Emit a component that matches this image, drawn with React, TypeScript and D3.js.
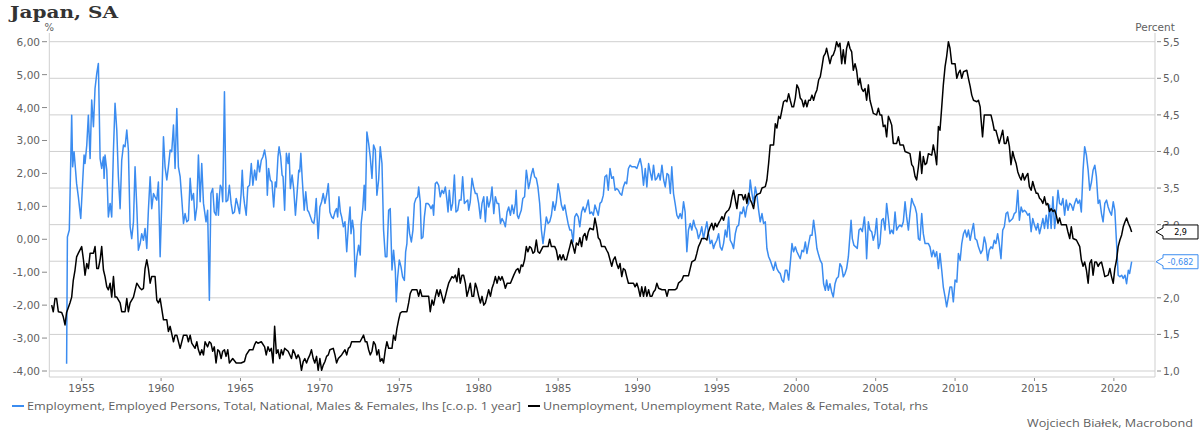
import * as d3 from "d3";

// Japan, SA — employment (lhs, % y/y) vs unemployment rate (rhs, %)
const yearTicks = [1955, 1960, 1965, 1970, 1975, 1980, 1985, 1990, 1995, 2000, 2005, 2010, 2015, 2020];
const lhsTicks = [6, 5, 4, 3, 2, 1, 0, -1, -2, -3, -4];
const rhsTicks = [5.5, 5, 4.5, 4, 3.5, 3, 2.5, 2, 1.5, 1];

const legendLabels = [
  "Employment, Employed Persons, Total, National, Males & Females, lhs [c.o.p. 1 year]",
  "Unemployment, Unemployment Rate, Males & Females, Total, rhs",
];

// [decimal year, value]
const employment: [number, number][] = [
  [1954.05, -3.78], [1954.1, 0.07], [1954.22, 0.28], [1954.37, 3.77], [1954.43, 2.2], [1954.52, 2.66], [1954.58, 2.3],
  [1954.68, 1.69], [1954.79, 1.29], [1954.94, 0.63], [1955.06, 1.74], [1955.15, 2.56], [1955.21, 2.3], [1955.32, 2.86],
  [1955.42, 3.77], [1955.53, 2.45], [1955.63, 4.23], [1955.74, 3.42], [1955.84, 4.58], [1955.95, 5.04], [1956.05, 5.34],
  [1956.16, 2.45], [1956.26, 2.15], [1956.37, 2.5], [1956.41, 1.85], [1956.47, 2.56], [1956.58, 2.1], [1956.68, 0.68],
  [1956.79, 1.09], [1956.89, 0.68], [1957.0, 2.71], [1957.1, 4.13], [1957.21, 3.32], [1957.31, 1.9], [1957.42, 0.93],
  [1957.52, 2.4], [1957.63, 2.86], [1957.73, 2.81], [1957.84, 3.32], [1957.94, 2.71], [1958.05, 0.38], [1958.15, 0.02],
  [1958.26, 0.53], [1958.36, 2.2], [1958.47, 0.98], [1958.57, -0.33], [1958.68, -0.13], [1958.78, 0.17], [1958.89, -0.03],
  [1958.99, 0.33], [1959.1, -0.28], [1959.2, 0.88], [1959.31, 1.9], [1959.41, 0.93], [1959.52, 1.39], [1959.62, 1.29],
  [1959.73, 1.19], [1959.83, 1.74], [1959.94, -0.53], [1960.04, 1.09], [1960.15, 3.11], [1960.25, 2.2], [1960.36, 1.8],
  [1960.46, 2.2], [1960.57, 2.71], [1960.67, 2.66], [1960.78, 3.47], [1960.88, 2.15], [1960.99, 3.97], [1961.09, 2.2],
  [1961.2, 1.9], [1961.3, 1.24], [1961.41, 0.48], [1961.51, 0.78], [1961.62, 0.53], [1961.72, 0.58], [1961.83, 1.85],
  [1961.93, 1.19], [1962.04, 1.39], [1962.14, 0.58], [1962.25, 0.98], [1962.35, 2.56], [1962.46, 1.14], [1962.56, 2.3],
  [1962.67, 1.09], [1962.83, 0.53], [1962.93, 0.88], [1963.04, -1.85], [1963.14, 1.39], [1963.25, 1.54], [1963.35, 0.83],
  [1963.46, 0.73], [1963.52, 1.39], [1963.61, 0.73], [1963.67, 1.29], [1963.73, 1.64], [1963.82, 1.54], [1963.88, 1.14],
  [1963.99, 4.48], [1964.09, 1.14], [1964.2, 1.19], [1964.3, 1.64], [1964.41, 1.09], [1964.51, 0.78], [1964.62, 0.83],
  [1964.73, 1.24], [1964.83, 1.04], [1964.94, 0.78], [1965.04, 1.39], [1965.11, 2.1], [1965.19, 1.34], [1965.25, 1.09],
  [1965.36, 0.73], [1965.46, 1.59], [1965.57, 1.64], [1965.68, 2.3], [1965.78, 1.64], [1965.89, 2.1], [1965.99, 1.8],
  [1966.1, 2.4], [1966.2, 2.05], [1966.31, 2.4], [1966.41, 2.5], [1966.52, 2.71], [1966.62, 2.4], [1966.69, 1.34],
  [1966.77, 2.15], [1966.88, 1.8], [1966.98, 1.74], [1967.09, 0.98], [1967.19, 1.74], [1967.26, 1.59], [1967.36, 2.5],
  [1967.43, 2.81], [1967.53, 2.5], [1967.62, 1.95], [1967.68, 1.9], [1967.78, 0.88], [1967.89, 2.61], [1968.0, 2.3],
  [1968.06, 2.61], [1968.14, 1.54], [1968.25, 1.95], [1968.35, 1.54], [1968.46, 0.73], [1968.57, 1.44], [1968.67, 2.1],
  [1968.73, 2.05], [1968.8, 2.61], [1968.88, 1.9], [1969.01, 0.88], [1969.11, 1.44], [1969.22, 0.88], [1969.3, 0.83],
  [1969.41, 0.68], [1969.51, 0.53], [1969.62, 0.48], [1969.68, 0.68], [1969.77, 1.24], [1969.89, 0.02], [1970.0, 0.98],
  [1970.11, 1.14], [1970.21, 1.39], [1970.32, 1.09], [1970.44, 1.39], [1970.53, 1.69], [1970.63, 0.83], [1970.74, 0.68],
  [1970.84, 0.63], [1970.95, 0.83], [1971.05, 0.93], [1971.12, 0.68], [1971.2, 1.29], [1971.29, 0.83], [1971.37, 0.68],
  [1971.48, 0.38], [1971.58, 0.53], [1971.69, -0.38], [1971.79, 0.38], [1971.9, 0.98], [1971.96, 0.17], [1972.05, 0.58],
  [1972.13, 0.28], [1972.22, -1.14], [1972.33, -0.53], [1972.44, -0.18], [1972.54, -0.48], [1972.6, 0.48], [1972.71, 0.98],
  [1972.79, 1.64], [1972.86, 0.88], [1972.96, 3.26], [1973.07, 2.91], [1973.17, 2.5], [1973.28, 1.85], [1973.38, 2.86],
  [1973.49, 2.71], [1973.59, 1.34], [1973.7, 1.8], [1973.8, 2.81], [1973.91, 2.3], [1974.01, 0.28], [1974.12, -0.53],
  [1974.22, -0.53], [1974.33, 0.88], [1974.43, 0.93], [1974.54, -0.93], [1974.64, -0.33], [1974.75, -0.93], [1974.81, -1.9],
  [1974.89, -1.19], [1975.0, -0.63], [1975.11, -0.84], [1975.21, -1.14], [1975.32, -1.25], [1975.4, -0.38], [1975.48, -0.13],
  [1975.55, 0.68], [1975.65, 0.17], [1975.76, -0.08], [1975.86, 0.28], [1975.95, 1.09], [1976.05, 1.24], [1976.16, 1.29],
  [1976.22, 1.59], [1976.32, 1.14], [1976.39, 0.02], [1976.49, 0.07], [1976.58, 0.68], [1976.68, 1.09], [1976.79, 1.09],
  [1976.89, 1.04], [1977.0, 0.93], [1977.1, 1.04], [1977.16, 0.73], [1977.27, 1.69], [1977.37, 1.74], [1977.48, 1.64],
  [1977.58, 1.29], [1977.69, 1.49], [1977.79, 1.39], [1977.9, 1.59], [1978.0, 1.19], [1978.07, 0.83], [1978.15, 1.49],
  [1978.26, 0.88], [1978.36, 1.09], [1978.47, 1.95], [1978.57, 0.83], [1978.68, 0.88], [1978.78, 1.19], [1978.89, 1.19],
  [1978.99, 1.9], [1979.1, 1.09], [1979.2, 1.14], [1979.31, 1.19], [1979.37, 0.88], [1979.47, 1.14], [1979.58, 1.85],
  [1979.68, 1.59], [1979.79, 1.39], [1979.89, 1.39], [1980.0, 1.09], [1980.11, 0.63], [1980.21, 1.09], [1980.32, 1.29],
  [1980.42, 0.53], [1980.53, 1.29], [1980.63, 0.98], [1980.74, 1.19], [1980.84, 1.59], [1980.95, 0.78], [1981.05, 1.29],
  [1981.16, 1.09], [1981.26, 1.09], [1981.37, 0.48], [1981.47, 0.63], [1981.58, 0.53], [1981.68, 0.38], [1981.79, 0.83],
  [1981.89, 0.98], [1982.0, 0.73], [1982.1, 1.04], [1982.21, 0.78], [1982.31, 1.09], [1982.36, 1.49], [1982.43, 0.73],
  [1982.51, 0.63], [1982.57, 0.73], [1982.68, 0.88], [1982.78, 1.24], [1982.89, 1.29], [1983.0, 2.1], [1983.06, 1.9],
  [1983.14, 1.54], [1983.23, 1.74], [1983.31, 1.95], [1983.42, 2.15], [1983.52, 1.9], [1983.63, 1.85], [1983.73, 1.59],
  [1983.84, 1.09], [1983.95, 0.28], [1984.05, -0.13], [1984.16, 0.28], [1984.26, 0.68], [1984.37, 0.48], [1984.47, 0.53],
  [1984.58, 0.73], [1984.68, 1.14], [1984.79, 0.88], [1984.89, 1.14], [1985.0, 1.69], [1985.11, 1.39], [1985.21, 1.04],
  [1985.32, 0.88], [1985.42, 1.04], [1985.53, 0.73], [1985.63, 0.48], [1985.74, 0.28], [1985.84, 0.28], [1985.95, -0.08],
  [1986.05, 0.68], [1986.16, 0.78], [1986.27, 0.68], [1986.37, 0.38], [1986.48, 0.83], [1986.58, 0.98], [1986.69, 0.83],
  [1986.79, 0.98], [1986.9, 1.19], [1987.0, 0.78], [1987.11, 0.83], [1987.22, 0.73], [1987.32, 1.04], [1987.43, 0.88],
  [1987.53, 0.73], [1987.64, 1.09], [1987.74, 1.14], [1987.85, 1.34], [1987.95, 1.9], [1988.06, 1.95], [1988.16, 1.49],
  [1988.27, 2.15], [1988.38, 1.85], [1988.48, 1.9], [1988.59, 1.49], [1988.69, 1.54], [1988.8, 1.49], [1988.9, 1.39],
  [1989.01, 1.34], [1989.11, 1.59], [1989.22, 1.74], [1989.32, 1.69], [1989.43, 2.15], [1989.54, 2.25], [1989.64, 2.2],
  [1989.85, 2.2], [1989.96, 2.15], [1990.17, 2.45], [1990.27, 2.2], [1990.38, 1.64], [1990.49, 2.15], [1990.59, 1.59],
  [1990.7, 2.3], [1990.8, 2.05], [1990.91, 1.8], [1991.01, 2.25], [1991.12, 1.8], [1991.22, 1.85], [1991.33, 2.0],
  [1991.43, 1.8], [1991.54, 2.25], [1991.65, 1.8], [1991.75, 1.59], [1991.86, 2.0], [1991.96, 1.95], [1992.07, 1.39],
  [1992.16, 2.2], [1992.27, 1.39], [1992.37, 1.09], [1992.48, 0.73], [1992.58, 0.63], [1992.69, 0.78], [1992.79, 0.63],
  [1992.9, 1.14], [1993.0, 0.83], [1993.11, -0.38], [1993.21, 0.28], [1993.32, 0.48], [1993.42, 0.28], [1993.53, 0.58],
  [1993.63, 0.38], [1993.74, 0.28], [1993.84, 0.02], [1993.95, 0.17], [1994.05, 0.38], [1994.16, 0.02], [1994.26, 0.28],
  [1994.37, 0.53], [1994.47, 0.17], [1994.58, -0.13], [1994.68, -0.03], [1994.79, -0.28], [1994.89, -0.13], [1995.0, -0.03],
  [1995.11, 0.17], [1995.21, -0.23], [1995.32, -0.33], [1995.42, -0.13], [1995.53, 0.28], [1995.63, 0.07], [1995.74, 0.68],
  [1995.84, -0.03], [1995.95, -0.13], [1996.05, -0.28], [1996.16, 0.17], [1996.26, 0.38], [1996.37, 0.43], [1996.47, 0.83],
  [1996.58, 0.78], [1996.68, 0.98], [1996.79, 0.68], [1996.89, 0.98], [1997.0, 1.09], [1997.1, 1.8], [1997.21, 1.39],
  [1997.31, 1.09], [1997.42, 1.59], [1997.52, 1.34], [1997.63, 0.88], [1997.73, 0.53], [1997.84, 0.78], [1997.94, 0.48],
  [1998.05, 0.53], [1998.15, -0.28], [1998.26, -0.53], [1998.36, -0.64], [1998.57, -0.94], [1998.68, -0.69], [1998.78, -0.89],
  [1998.89, -0.99], [1998.99, -1.04], [1999.1, -1.24], [1999.2, -1.3], [1999.31, -0.94], [1999.41, -0.94], [1999.52, -1.24],
  [1999.62, -0.74], [1999.73, -0.13], [1999.83, -0.38], [1999.94, -0.23], [2000.04, -0.38], [2000.25, -0.59], [2000.36, -0.33],
  [2000.46, -0.38], [2000.57, -0.08], [2000.67, -0.43], [2000.78, -0.13], [2000.88, 0.12], [2000.99, 0.12], [2001.09, 0.58],
  [2001.2, 0.17], [2001.3, -0.28], [2001.41, -0.48], [2001.51, -0.64], [2001.62, -0.74], [2001.72, -1.35], [2001.83, -1.55],
  [2001.91, -1.24], [2002.02, -1.55], [2002.12, -1.35], [2002.23, -1.6], [2002.33, -1.75], [2002.44, -1.35], [2002.54, -1.19],
  [2002.65, -1.14], [2002.75, -0.74], [2002.86, -0.84], [2002.96, -1.14], [2003.07, -1.04], [2003.17, -0.89], [2003.28, -0.53],
  [2003.38, 0.12], [2003.45, 0.58], [2003.53, 0.02], [2003.63, -0.18], [2003.74, -0.23], [2003.84, -0.28], [2003.95, 0.28],
  [2004.05, 0.33], [2004.16, 0.23], [2004.29, 0.68], [2004.37, 0.17], [2004.43, -0.59], [2004.54, 0.53], [2004.64, 0.28],
  [2004.75, 0.23], [2004.85, -0.03], [2004.96, 0.17], [2005.06, 0.63], [2005.17, -0.28], [2005.27, -0.13], [2005.38, 0.58],
  [2005.48, 0.63], [2005.59, 0.28], [2005.69, 1.09], [2005.8, 0.63], [2005.9, 0.17], [2006.01, 0.28], [2006.11, 0.17],
  [2006.22, 0.83], [2006.32, 0.28], [2006.43, 0.38], [2006.53, 0.43], [2006.64, 0.38], [2006.74, 0.53], [2006.85, 1.14],
  [2006.95, 0.68], [2007.06, 0.28], [2007.16, 0.78], [2007.27, 1.24], [2007.37, 1.09], [2007.48, 0.98], [2007.58, 0.78],
  [2007.69, 0.02], [2007.79, -0.03], [2007.9, 0.78], [2008.0, 0.17], [2008.11, -0.13], [2008.32, -0.13], [2008.42, -0.23],
  [2008.53, -0.53], [2008.63, -0.33], [2008.74, -0.53], [2008.84, -0.38], [2008.95, -0.89], [2009.05, -0.43], [2009.16, -0.94],
  [2009.26, -1.45], [2009.37, -1.75], [2009.47, -2.05], [2009.58, -1.75], [2009.68, -1.45], [2009.79, -1.45], [2009.89, -1.9],
  [2010.0, -1.24], [2010.11, -1.3], [2010.21, -0.43], [2010.32, -0.64], [2010.42, -0.13], [2010.53, 0.17], [2010.63, 0.28],
  [2010.74, 0.07], [2010.84, 0.28], [2010.95, -0.03], [2011.05, 0.23], [2011.16, 0.48], [2011.26, 0.02], [2011.37, -0.03],
  [2011.47, -0.23], [2011.62, -0.43], [2011.73, -0.33], [2011.84, 0.07], [2011.94, -0.13], [2012.05, -0.64], [2012.15, -0.33],
  [2012.26, -0.23], [2012.36, -0.28], [2012.47, -0.03], [2012.57, -0.13], [2012.68, 0.17], [2012.78, -0.13], [2012.89, -0.59],
  [2013.0, 0.28], [2013.1, 0.38], [2013.21, 0.78], [2013.31, 0.83], [2013.42, 0.53], [2013.52, 0.58], [2013.63, 0.63],
  [2013.73, 0.78], [2013.84, 0.83], [2013.95, 1.49], [2014.05, 0.58], [2014.16, 0.98], [2014.26, 0.83], [2014.37, 0.88],
  [2014.47, 0.83], [2014.58, 0.73], [2014.68, 0.78], [2014.79, 0.23], [2014.89, 0.63], [2015.0, 0.43], [2015.11, 0.28],
  [2015.21, 0.48], [2015.32, 0.17], [2015.42, 0.38], [2015.53, 0.63], [2015.63, 0.33], [2015.74, 0.73], [2015.84, 0.33],
  [2015.95, 1.04], [2016.05, 0.33], [2016.16, 1.29], [2016.27, 0.33], [2016.37, 0.83], [2016.48, 1.49], [2016.58, 1.09],
  [2016.69, 1.04], [2016.79, 1.24], [2016.9, 0.73], [2017.0, 1.19], [2017.11, 0.88], [2017.22, 1.09], [2017.32, 1.04],
  [2017.43, 0.88], [2017.53, 1.09], [2017.64, 1.24], [2017.74, 1.09], [2017.85, 1.19], [2017.95, 0.83], [2018.06, 2.1],
  [2018.16, 2.81], [2018.27, 2.56], [2018.38, 2.1], [2018.48, 1.49], [2018.59, 1.74], [2018.69, 2.1], [2018.8, 2.25],
  [2018.9, 1.9], [2019.01, 1.09], [2019.11, 1.19], [2019.22, 0.78], [2019.32, 0.53], [2019.43, 1.09], [2019.54, 1.19],
  [2019.64, 0.98], [2019.75, 0.83], [2019.85, 0.73], [2019.96, 1.14], [2020.06, 0.88], [2020.17, -0.13], [2020.27, -1.09],
  [2020.38, -1.14], [2020.49, -1.09], [2020.59, -1.19], [2020.7, -1.09], [2020.8, -1.35], [2020.91, -0.94], [2020.99, -1.04],
  [2021.12, -0.682],
];

const unemployment: [number, number][] = [
  [1953.11, 1.9], [1953.21, 1.81], [1953.32, 1.99], [1953.42, 1.99], [1953.53, 1.81], [1953.74, 1.8], [1953.84, 1.74],
  [1953.95, 1.63], [1954.05, 1.8], [1954.26, 1.93], [1954.37, 2.01], [1954.47, 2.24], [1954.58, 2.38], [1954.68, 2.56],
  [1954.79, 2.61], [1955.0, 2.7], [1955.11, 2.52], [1955.21, 2.31], [1955.32, 2.47], [1955.42, 2.4], [1955.53, 2.61],
  [1955.74, 2.61], [1955.84, 2.7], [1955.95, 2.4], [1956.05, 2.4], [1956.16, 2.52], [1956.26, 2.7], [1956.37, 2.38],
  [1956.47, 2.29], [1956.58, 2.15], [1956.68, 2.11], [1956.79, 2.2], [1956.89, 2.01], [1957.0, 2.29], [1957.1, 2.01],
  [1957.21, 2.01], [1957.42, 1.93], [1957.52, 1.81], [1957.73, 1.81], [1957.84, 1.99], [1957.94, 1.81], [1958.05, 1.93],
  [1958.26, 2.01], [1958.47, 2.2], [1958.68, 2.13], [1958.78, 2.11], [1958.89, 2.13], [1958.99, 2.4], [1959.1, 2.52],
  [1959.2, 2.4], [1959.31, 2.2], [1959.41, 2.29], [1959.62, 2.29], [1959.73, 1.97], [1959.83, 1.93], [1959.94, 1.99],
  [1960.15, 1.7], [1960.36, 1.7], [1960.46, 1.54], [1960.57, 1.61], [1960.78, 1.4], [1960.88, 1.49], [1960.99, 1.49],
  [1961.2, 1.31], [1961.41, 1.49], [1961.62, 1.49], [1961.72, 1.4], [1961.83, 1.49], [1961.93, 1.38], [1962.14, 1.31],
  [1962.25, 1.4], [1962.35, 1.29], [1962.46, 1.22], [1962.56, 1.29], [1962.67, 1.22], [1962.77, 1.4], [1962.93, 1.33],
  [1963.04, 1.4], [1963.14, 1.38], [1963.25, 1.27], [1963.35, 1.33], [1963.46, 1.11], [1963.57, 1.29], [1963.67, 1.27],
  [1963.78, 1.17], [1963.88, 1.27], [1963.99, 1.29], [1964.09, 1.2], [1964.2, 1.29], [1964.3, 1.11], [1964.51, 1.17],
  [1964.73, 1.11], [1965.04, 1.11], [1965.25, 1.13], [1965.36, 1.22], [1965.57, 1.29], [1965.78, 1.29], [1965.89, 1.36],
  [1965.99, 1.4], [1966.1, 1.38], [1966.31, 1.4], [1966.52, 1.33], [1966.62, 1.22], [1966.73, 1.33], [1966.84, 1.27],
  [1966.94, 1.31], [1967.05, 1.11], [1967.15, 1.61], [1967.26, 1.24], [1967.36, 1.29], [1967.47, 1.17], [1967.57, 1.29],
  [1967.68, 1.22], [1967.78, 1.31], [1968.0, 1.27], [1968.21, 1.17], [1968.31, 1.29], [1968.42, 1.24], [1968.52, 1.17],
  [1968.63, 1.22], [1968.73, 1.17], [1968.84, 1.01], [1968.95, 1.13], [1969.05, 1.17], [1969.16, 1.11], [1969.26, 1.17],
  [1969.37, 1.22], [1969.47, 1.29], [1969.58, 1.17], [1969.68, 1.11], [1969.79, 1.2], [1969.89, 1.01], [1970.0, 1.17],
  [1970.11, 1.01], [1970.21, 1.08], [1970.32, 1.13], [1970.42, 1.2], [1970.53, 1.22], [1970.63, 1.29], [1970.84, 1.31],
  [1970.95, 1.22], [1971.05, 1.11], [1971.16, 1.17], [1971.37, 1.22], [1971.58, 1.29], [1971.69, 1.22], [1971.79, 1.31],
  [1971.9, 1.33], [1972.0, 1.4], [1972.53, 1.4], [1972.75, 1.49], [1972.86, 1.4], [1972.96, 1.4], [1973.07, 1.29],
  [1973.17, 1.22], [1973.28, 1.27], [1973.38, 1.4], [1973.49, 1.36], [1973.59, 1.22], [1973.7, 1.29], [1973.8, 1.13],
  [1973.91, 1.17], [1974.01, 1.11], [1974.12, 1.29], [1974.22, 1.4], [1974.33, 1.31], [1974.54, 1.31], [1974.64, 1.49],
  [1974.75, 1.42], [1974.85, 1.58], [1974.96, 1.7], [1975.06, 1.79], [1975.17, 1.81], [1975.48, 1.81], [1975.59, 1.93],
  [1975.69, 2.06], [1975.8, 2.11], [1976.11, 2.11], [1976.22, 2.02], [1976.32, 2.11], [1976.43, 2.02], [1976.85, 2.02],
  [1976.95, 1.81], [1977.06, 1.97], [1977.16, 1.9], [1977.27, 2.02], [1977.37, 2.11], [1977.48, 2.02], [1977.58, 2.11],
  [1977.69, 2.02], [1977.79, 1.93], [1977.9, 2.02], [1978.0, 2.11], [1978.11, 2.2], [1978.32, 2.29], [1978.42, 2.27],
  [1978.53, 2.31], [1978.63, 2.22], [1978.74, 2.4], [1978.84, 2.2], [1978.95, 2.31], [1979.05, 2.31], [1979.16, 2.2],
  [1979.26, 2.02], [1979.37, 2.11], [1979.47, 2.2], [1979.58, 2.02], [1979.68, 2.02], [1979.79, 2.2], [1979.89, 2.13],
  [1980.0, 2.02], [1980.11, 1.93], [1980.21, 2.02], [1980.32, 1.9], [1980.42, 1.93], [1980.53, 2.02], [1980.63, 2.11],
  [1980.74, 2.02], [1980.84, 2.13], [1980.95, 2.2], [1981.05, 2.29], [1981.16, 2.2], [1981.26, 2.29], [1981.37, 2.24],
  [1981.47, 2.29], [1981.58, 2.22], [1981.68, 2.13], [1981.79, 2.2], [1982.0, 2.2], [1982.21, 2.31], [1982.36, 2.38],
  [1982.47, 2.4], [1982.57, 2.34], [1982.68, 2.45], [1982.78, 2.43], [1982.89, 2.52], [1983.0, 2.7], [1983.1, 2.63],
  [1983.21, 2.7], [1983.31, 2.68], [1983.42, 2.61], [1983.52, 2.63], [1983.63, 2.79], [1983.73, 2.63], [1983.84, 2.61],
  [1984.05, 2.7], [1984.37, 2.7], [1984.47, 2.8], [1984.58, 2.7], [1984.79, 2.7], [1984.89, 2.65], [1985.0, 2.52],
  [1985.11, 2.59], [1985.21, 2.52], [1985.32, 2.59], [1985.42, 2.52], [1985.53, 2.52], [1985.63, 2.61], [1985.74, 2.7],
  [1985.84, 2.79], [1985.95, 2.7], [1986.05, 2.61], [1986.16, 2.75], [1986.27, 2.72], [1986.37, 2.82], [1986.48, 2.7],
  [1986.58, 2.84], [1986.69, 2.88], [1986.79, 2.79], [1986.9, 2.9], [1987.0, 2.95], [1987.22, 2.93], [1987.32, 3.09],
  [1987.43, 2.97], [1987.53, 2.82], [1987.64, 2.79], [1987.74, 2.7], [1987.95, 2.7], [1988.06, 2.65], [1988.16, 2.61],
  [1988.27, 2.52], [1988.38, 2.43], [1988.48, 2.52], [1988.59, 2.56], [1988.69, 2.47], [1988.8, 2.4], [1988.9, 2.47],
  [1989.01, 2.29], [1989.11, 2.4], [1989.22, 2.38], [1989.32, 2.29], [1989.43, 2.2], [1989.75, 2.2], [1989.85, 2.15],
  [1989.96, 2.2], [1990.06, 2.13], [1990.17, 2.02], [1990.27, 2.15], [1990.38, 2.02], [1990.49, 2.15], [1990.59, 2.02],
  [1990.7, 2.11], [1990.8, 2.02], [1990.91, 2.02], [1991.01, 2.08], [1991.12, 2.11], [1991.22, 2.2], [1991.33, 2.13],
  [1991.54, 2.11], [1991.75, 2.11], [1991.86, 2.02], [1991.96, 2.11], [1992.37, 2.11], [1992.48, 2.13], [1992.58, 2.2],
  [1992.79, 2.24], [1992.9, 2.3], [1993.21, 2.3], [1993.32, 2.4], [1993.42, 2.49], [1993.63, 2.52], [1993.74, 2.61],
  [1993.84, 2.7], [1993.95, 2.75], [1994.05, 2.81], [1994.26, 2.81], [1994.37, 2.79], [1994.47, 2.9], [1994.58, 2.97],
  [1994.68, 3.02], [1994.79, 2.93], [1994.89, 3.02], [1995.0, 2.97], [1995.11, 3.02], [1995.21, 3.06], [1995.32, 3.11],
  [1995.42, 3.06], [1995.53, 3.15], [1995.63, 3.18], [1995.74, 3.2], [1995.84, 3.25], [1995.95, 3.38], [1996.05, 3.47],
  [1996.16, 3.34], [1996.26, 3.22], [1996.37, 3.41], [1996.58, 3.41], [1996.68, 3.34], [1996.79, 3.41], [1996.89, 3.29],
  [1997.0, 3.43], [1997.1, 3.34], [1997.21, 3.29], [1997.31, 3.22], [1997.42, 3.38], [1997.52, 3.41], [1997.73, 3.43],
  [1997.84, 3.5], [1998.05, 3.52], [1998.15, 3.61], [1998.26, 3.84], [1998.36, 4.09], [1998.57, 4.09], [1998.68, 4.38],
  [1998.78, 4.32], [1998.89, 4.48], [1998.99, 4.45], [1999.1, 4.57], [1999.2, 4.68], [1999.31, 4.7], [1999.41, 4.68],
  [1999.52, 4.79], [1999.62, 4.7], [1999.73, 4.61], [1999.83, 4.61], [1999.94, 4.73], [2000.04, 4.91], [2000.15, 4.86],
  [2000.25, 4.73], [2000.36, 4.7], [2000.46, 4.61], [2000.57, 4.7], [2000.67, 4.61], [2000.78, 4.7], [2000.88, 4.7],
  [2000.99, 4.77], [2001.09, 4.7], [2001.2, 4.79], [2001.3, 4.84], [2001.41, 4.98], [2001.51, 5.02], [2001.62, 5.16],
  [2001.72, 5.3], [2001.83, 5.34], [2001.91, 5.41], [2002.02, 5.3], [2002.12, 5.2], [2002.23, 5.3], [2002.33, 5.32],
  [2002.44, 5.39], [2002.54, 5.5], [2002.65, 5.43], [2002.75, 5.48], [2002.86, 5.2], [2002.96, 5.39], [2003.07, 5.2],
  [2003.17, 5.41], [2003.28, 5.5], [2003.38, 5.41], [2003.49, 5.36], [2003.59, 5.11], [2003.7, 5.2], [2003.8, 5.11],
  [2003.91, 4.91], [2004.01, 5.0], [2004.12, 4.86], [2004.22, 4.82], [2004.33, 4.86], [2004.43, 4.7], [2004.54, 4.91],
  [2004.64, 4.7], [2004.75, 4.61], [2004.85, 4.52], [2005.06, 4.5], [2005.17, 4.59], [2005.27, 4.5], [2005.38, 4.5],
  [2005.48, 4.34], [2005.59, 4.36], [2005.69, 4.2], [2005.8, 4.48], [2005.9, 4.43], [2006.01, 4.36], [2006.11, 4.11],
  [2006.32, 4.11], [2006.43, 4.2], [2006.53, 4.09], [2006.74, 4.09], [2006.85, 4.0], [2007.16, 3.97], [2007.27, 3.82],
  [2007.37, 3.79], [2007.48, 3.66], [2007.58, 3.61], [2007.69, 3.79], [2007.79, 4.0], [2007.9, 3.7], [2008.0, 3.93],
  [2008.11, 3.82], [2008.21, 3.84], [2008.32, 3.97], [2008.53, 3.95], [2008.63, 4.09], [2008.74, 3.97], [2008.84, 3.82],
  [2008.95, 4.34], [2009.05, 4.29], [2009.16, 4.61], [2009.26, 4.91], [2009.37, 5.16], [2009.47, 5.3], [2009.58, 5.5],
  [2009.68, 5.41], [2009.79, 5.2], [2010.0, 5.2], [2010.11, 5.0], [2010.21, 5.07], [2010.32, 5.11], [2010.42, 5.0],
  [2010.53, 5.09], [2010.74, 5.11], [2010.84, 5.0], [2010.95, 4.89], [2011.05, 4.77], [2011.16, 4.7], [2011.37, 4.68],
  [2011.47, 4.7], [2011.58, 4.61], [2011.62, 4.48], [2011.73, 4.2], [2011.84, 4.5], [2012.05, 4.5], [2012.26, 4.5],
  [2012.36, 4.41], [2012.47, 4.29], [2012.57, 4.29], [2012.68, 4.2], [2012.78, 4.11], [2012.89, 4.2], [2013.0, 4.29],
  [2013.1, 4.11], [2013.21, 4.11], [2013.31, 4.2], [2013.42, 4.07], [2013.52, 3.82], [2013.63, 4.0], [2013.73, 3.91],
  [2013.84, 3.84], [2013.95, 3.72], [2014.05, 3.66], [2014.16, 3.61], [2014.26, 3.7], [2014.37, 3.61], [2014.47, 3.66],
  [2014.58, 3.7], [2014.68, 3.52], [2014.79, 3.47], [2014.89, 3.59], [2015.0, 3.5], [2015.11, 3.43], [2015.21, 3.43],
  [2015.32, 3.36], [2015.42, 3.34], [2015.53, 3.29], [2015.63, 3.38], [2015.74, 3.27], [2015.84, 3.29], [2015.95, 3.18],
  [2016.05, 3.22], [2016.16, 3.18], [2016.27, 3.2], [2016.37, 3.13], [2016.48, 3.02], [2016.58, 3.09], [2016.69, 3.0],
  [2016.79, 3.0], [2017.0, 3.0], [2017.11, 2.9], [2017.22, 2.81], [2017.32, 2.97], [2017.43, 2.81], [2017.64, 2.79],
  [2017.85, 2.7], [2017.95, 2.52], [2018.06, 2.43], [2018.16, 2.49], [2018.27, 2.38], [2018.38, 2.2], [2018.48, 2.47],
  [2018.59, 2.52], [2018.69, 2.31], [2018.8, 2.49], [2018.9, 2.49], [2019.01, 2.43], [2019.11, 2.47], [2019.22, 2.49],
  [2019.32, 2.4], [2019.43, 2.29], [2019.64, 2.31], [2019.75, 2.4], [2019.85, 2.29], [2019.96, 2.2], [2020.06, 2.4],
  [2020.17, 2.52], [2020.27, 2.7], [2020.38, 2.79], [2020.49, 2.86], [2020.59, 2.97], [2020.7, 3.04], [2020.8, 3.09],
  [2020.91, 3.02], [2021.01, 2.97], [2021.12, 2.9],
];

const BLUE = "#3b8cf0";
const GRID = "#cfcfcf";
const TEXT = "#5f5f5f";

const locale = d3.formatLocale({ decimal: ",", thousands: " ", grouping: [3], currency: ["", ""], minus: "-" });
const fmtL = locale.format(".2f");
const fmtR = locale.format(".1f");
const fmtEnd = locale.format(".3~f");

export default function App() {
  const W = 1203, H = 432;
  const left = 49.3, right = 1155, top = 41.7, bottom = 371, axisBottom = 377;

  const x = d3.scaleLinear().domain([1952.96, 2022.59]).range([left, right]);
  const yL = d3.scaleLinear().domain([-4, 6]).range([bottom, top]);
  const yR = d3.scaleLinear().domain([1, 5.5]).range([bottom, top]);

  const lineL = d3.line<[number, number]>().x(d => x(d[0])).y(d => yL(d[1]));
  const lineR = d3.line<[number, number]>().x(d => x(d[0])).y(d => yR(d[1]));

  const lastE = employment[employment.length - 1];
  const lastU = unemployment[unemployment.length - 1];
  const tagU = yR(lastU[1]);
  const tagE = yL(lastE[1]);

  const tag = (yy: number, color: string, label: string) => {
    const bx = 1163, bw = 35, bh = 14;
    return (
      <g>
        <path
          d={`M${right + 1},${yy} L${bx},${yy - 4} L${bx},${yy - bh / 2} L${bx + bw},${yy - bh / 2} L${bx + bw},${yy + bh / 2} L${bx},${yy + bh / 2} L${bx},${yy + 4} Z`}
          fill="#fff" stroke={color} strokeWidth={1}
        />
        <text x={bx + bw / 2} y={yy + 3} textAnchor="middle" fontSize={8} fill={color} fontFamily="DejaVu Sans, sans-serif">{label}</text>
      </g>
    );
  };

  // rhs labels fully covered by a value tag are not drawn
  const rhsVisible = rhsTicks.filter(t => Math.abs(yR(t) - tagE) > 5);

  return (
    <div style={{ position: "absolute", left: 0, top: 0 }}>
      <svg width={W} height={H} style={{ display: "block", background: "#fff" }}>
        <text x={10} y={18} fontFamily="DejaVu Serif, serif" fontWeight="bold" fontSize={17} fill="#333"
          textLength={108} lengthAdjust="spacingAndGlyphs">Japan, SA</text>

        {/* gridlines from rhs scale */}
        {rhsTicks.map(t => (
          <line key={"g" + t} x1={left} x2={right} y1={yR(t)} y2={yR(t)} stroke={GRID} strokeWidth={1} />
        ))}

        {/* axes frame */}
        <line x1={left} x2={left} y1={33} y2={axisBottom} stroke={GRID} />
        <line x1={right} x2={right} y1={33} y2={axisBottom} stroke={GRID} />
        <line x1={left} x2={right} y1={axisBottom} y2={axisBottom} stroke={GRID} />

        {/* lhs */}
        <text x={left} y={31} textAnchor="middle" fontSize={10} fill={TEXT} fontFamily="DejaVu Sans, sans-serif">%</text>
        {lhsTicks.map(t => (
          <g key={"l" + t}>
            <line x1={42} x2={47} y1={yL(t)} y2={yL(t)} stroke="#888" />
            <text x={40} y={yL(t) + 4} textAnchor="end" fontSize={10.5} fill={TEXT} fontFamily="DejaVu Sans, sans-serif">{fmtL(t)}</text>
          </g>
        ))}

        {/* rhs */}
        <text x={right} y={31} textAnchor="middle" fontSize={10.5} fill={TEXT} fontFamily="DejaVu Sans, sans-serif">Percent</text>
        {rhsTicks.map(t => (
          <line key={"rt" + t} x1={right + 2} x2={right + 6} y1={yR(t)} y2={yR(t)} stroke="#888" />
        ))}
        {rhsVisible.map(t => (
          <text key={"r" + t} x={right + 8} y={yR(t) + 4} fontSize={10.5} fill={TEXT} fontFamily="DejaVu Sans, sans-serif">{fmtR(t)}</text>
        ))}

        {/* x axis */}
        {yearTicks.map(t => (
          <g key={"x" + t}>
            <line x1={x(t)} x2={x(t)} y1={axisBottom + 1} y2={axisBottom + 4} stroke="#888" />
            <text x={x(t)} y={392} textAnchor="middle" fontSize={10.5} fill={TEXT} fontFamily="DejaVu Sans, sans-serif">{t}</text>
          </g>
        ))}

        {/* series */}
        <path d={lineL(employment) ?? ""} fill="none" stroke={BLUE} strokeWidth={1.5} strokeLinejoin="round" />
        <path d={lineR(unemployment) ?? ""} fill="none" stroke="#000" strokeWidth={1.5} strokeLinejoin="round" />

        {/* end value tags */}
        {tag(tagU, "#000", fmtR(lastU[1]))}
        {tag(tagE, BLUE, fmtEnd(lastE[1]))}

        {/* legend */}
        <line x1={12} x2={24} y1={406} y2={406} stroke={BLUE} strokeWidth={2} />
        <text x={27} y={410} fontSize={11.5} fill={TEXT} fontFamily="Open Sans, sans-serif"
          textLength={494} lengthAdjust="spacingAndGlyphs">{legendLabels[0]}</text>
        <line x1={528} x2={540} y1={406} y2={406} stroke="#000" strokeWidth={2} />
        <text x={543} y={410} fontSize={11.5} fill={TEXT} fontFamily="Open Sans, sans-serif"
          textLength={385} lengthAdjust="spacingAndGlyphs">{legendLabels[1]}</text>

        <text x={1193} y={427} textAnchor="end" fontSize={11.5} fill={TEXT} fontFamily="Open Sans, sans-serif"
          textLength={166} lengthAdjust="spacingAndGlyphs">Wojciech Białek, Macrobond</text>
      </svg>
    </div>
  );
}
